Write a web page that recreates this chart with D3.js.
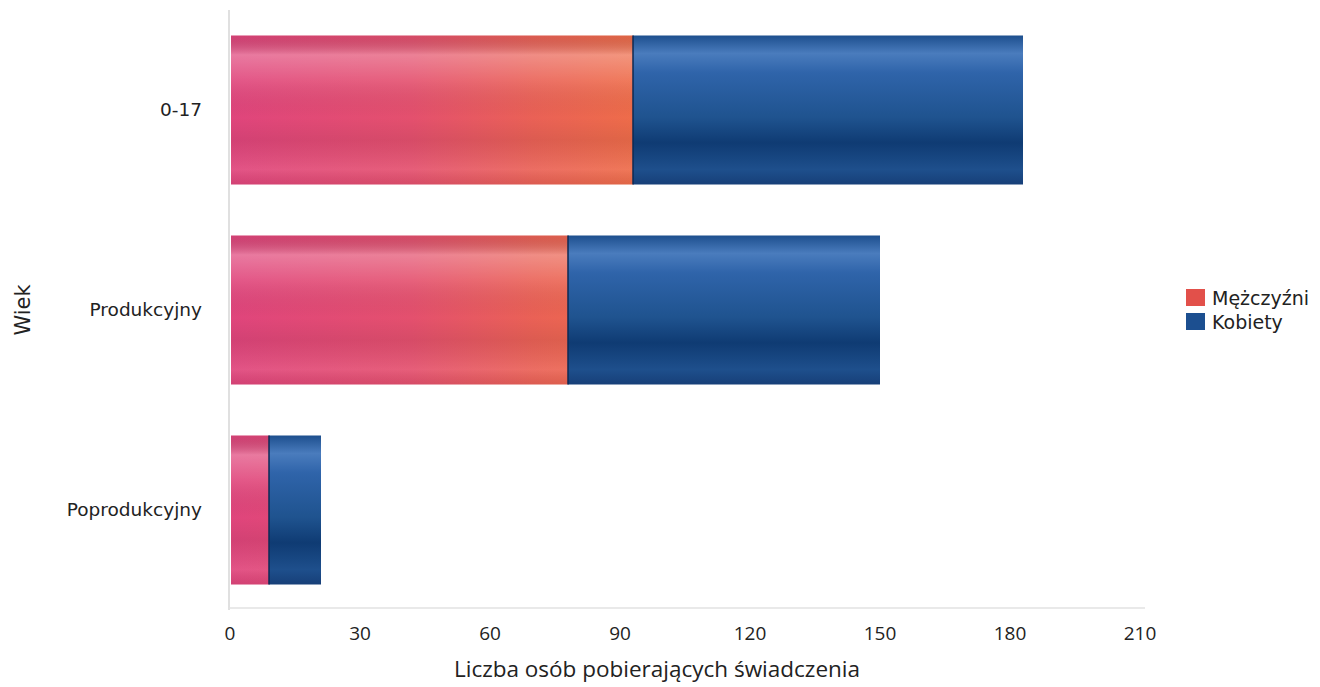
<!DOCTYPE html>
<html><head><meta charset="utf-8">
<script src="https://cdn.jsdelivr.net/npm/d3@7"></script>
<style>body{margin:0;background:#fff;}svg{display:block;font-family:"Open Sans","DejaVu Sans",sans-serif;}</style>
</head><body><svg id="c" width="1320" height="687"></svg>
<script>
const categories = ["0-17", "Produkcyjny", "Poprodukcyjny"];
const seriesNames = ["Mężczyźni", "Kobiety"];
const men = [93, 78, 9];
const women = [90, 72, 12];
const xTicks = [0, 30, 60, 90, 120, 150, 180, 210];

const svg = d3.select("#c");
const x = d3.scaleLinear().domain([0, 210]).range([230, 1140]);
const y = d3.scaleBand().domain(categories).range([10, 610]).paddingInner(0.255).paddingOuter(0.1275);

const defs = svg.append("defs");
const gm = defs.append("linearGradient").attr("id","gMen").attr("gradientUnits","userSpaceOnUse")
  .attr("x1",x(0)).attr("x2",x(93)).attr("y1",0).attr("y2",0);
gm.append("stop").attr("offset","0%").attr("stop-color","#e0457c");
gm.append("stop").attr("offset","45%").attr("stop-color","#e4506e");
gm.append("stop").attr("offset","75%").attr("stop-color","#ea6156");
gm.append("stop").attr("offset","100%").attr("stop-color","#ee6c4a");
const gw = defs.append("linearGradient").attr("id","gWomen").attr("x1",0).attr("x2",0).attr("y1",0).attr("y2",1);
[["0%","#1d4f8e"],["12%","#4a7cbd"],["25%","#2f64aa"],["55%","#1f538f"],["72%","#0f3b73"],["90%","#1e4f8c"],["100%","#173f78"]]
  .forEach(s=>gw.append("stop").attr("offset",s[0]).attr("stop-color",s[1]));
const gs = defs.append("linearGradient").attr("id","gShine").attr("x1",0).attr("x2",0).attr("y1",0).attr("y2",1);
[["0%","#000",0.06],["13%","#fff",0.28],["30%","#fff",0.1],["55%","#000",0.0],["70%","#000",0.06],["90%","#fff",0.08],["100%","#000",0.06]]
  .forEach(s=>gs.append("stop").attr("offset",s[0]).attr("stop-color",s[1]).attr("stop-opacity",s[2]));

// axes lines
svg.append("line").attr("x1",229).attr("x2",229).attr("y1",10).attr("y2",610).attr("stroke","#d6d6d6").attr("stroke-width",1.5);
svg.append("line").attr("x1",229).attr("x2",1145).attr("y1",608).attr("y2",608).attr("stroke","#e2e2e2").attr("stroke-width",1.5);

const g = svg.append("g");
categories.forEach((c,i)=>{
  const y0 = y(c), h = y.bandwidth();
  g.append("rect").attr("x",x(0)+1).attr("y",y0).attr("width",x(men[i])-x(0)-1).attr("height",h).attr("fill","url(#gMen)");
  g.append("rect").attr("x",x(0)+1).attr("y",y0).attr("width",x(men[i])-x(0)-1).attr("height",h).attr("fill","url(#gShine)");
  g.append("rect").attr("x",x(men[i])).attr("y",y0).attr("width",x(men[i]+women[i])-x(men[i])).attr("height",h).attr("fill","url(#gWomen)");
  g.append("line").attr("x1",x(men[i])).attr("x2",x(men[i])).attr("y1",y0).attr("y2",y0+h).attr("stroke","#0d2a55").attr("stroke-width",1.5);
});

// category labels
svg.append("g").selectAll("text").data(categories).join("text")
  .attr("x",202).attr("y",d=>y(d)+y.bandwidth()/2).attr("dy","0.35em")
  .attr("text-anchor","end").attr("font-family","DejaVu Sans").attr("font-size",18.5).attr("fill","#222").text(d=>d);

// x tick labels
svg.append("g").selectAll("text").data(xTicks).join("text")
  .attr("x",d=>x(d)).attr("y",640).attr("text-anchor","middle").attr("font-size",19).attr("fill","#222").text(d=>d);

svg.append("text").attr("x",657).attr("y",677).attr("text-anchor","middle").attr("font-size",22.5).attr("fill","#222").text("Liczba osób pobierających świadczenia");
svg.append("text").attr("transform","translate(30,310) rotate(-90)").attr("text-anchor","middle").attr("font-family","DejaVu Sans").attr("font-size",21).attr("fill","#222").text("Wiek");

// legend
const leg = svg.append("g").attr("transform","translate(1186,289)");
const legColors = ["#e2504a","#1c4f90"];
seriesNames.forEach((s,i)=>{
  leg.append("rect").attr("x",0).attr("y",i*24).attr("width",19).attr("height",17).attr("fill",legColors[i]);
  leg.append("text").attr("x",26).attr("y",i*24+9).attr("dy","0.35em").attr("font-family","DejaVu Sans").attr("font-size",19).attr("fill","#222").text(s);
});
</script></body></html>
